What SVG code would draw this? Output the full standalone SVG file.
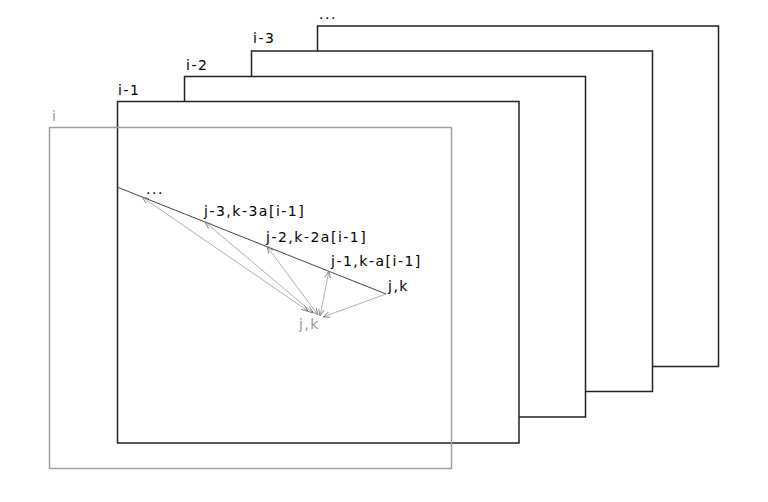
<svg xmlns="http://www.w3.org/2000/svg" width="768" height="502" viewBox="0 0 768 502">
<defs>
<style>
.frame{fill:#fff;stroke:#222;stroke-width:1.5}
.cur{fill:none;stroke:#a0a0a0;stroke-width:1.5}
.lbl{font-family:"DejaVu Sans","Liberation Sans",sans-serif;font-size:14px;letter-spacing:1.5px;fill:#000}
.glbl{font-family:"DejaVu Sans","Liberation Sans",sans-serif;font-size:14px;letter-spacing:1.5px;fill:#999}
.main{stroke:#444;stroke-width:1;fill:none}
.dep{stroke:#b0b0b0;stroke-width:1;fill:none;marker-start:url(#ah);marker-end:url(#ah)}
</style>
<marker id="ah" viewBox="0 0 10 10" refX="10" refY="5" markerWidth="7" markerHeight="7" markerUnits="userSpaceOnUse" orient="auto-start-reverse">
<path d="M0,1 L10,5 L0,9" fill="none" stroke="#777" stroke-width="1.2"/>
</marker>
</defs>
<g id="layer-dots">
<rect class="frame" x="317.5" y="26" width="401" height="340.5"/>
<text class="lbl" x="319" y="19">...</text>
</g>
<g id="layer-i-3">
<rect class="frame" x="251.5" y="51" width="401" height="340.5"/>
<text class="lbl" x="253" y="43">i-3</text>
</g>
<g id="layer-i-2">
<rect class="frame" x="184.5" y="76.5" width="401" height="340.5"/>
<text class="lbl" x="186" y="69.5">i-2</text>
</g>
<g id="layer-i-1">
<rect class="frame" x="117.5" y="101.5" width="401.5" height="341.5"/>
<text class="lbl" x="118" y="95">i-1</text>
</g>
<g id="layer-i">
<rect class="cur" x="49.5" y="127.5" width="402" height="341"/>
<text class="glbl" x="52" y="121">i</text>
</g>
<g id="connectors">
<line class="main" x1="117" y1="187" x2="386" y2="294"/>
<line class="dep" x1="142" y1="197" x2="308" y2="311"/>
<line class="dep" x1="205" y1="222" x2="313" y2="313"/>
<line class="dep" x1="267" y1="246.5" x2="318" y2="315"/>
<line class="dep" x1="329" y1="271" x2="320" y2="316"/>
<line class="dep" x1="386" y1="294" x2="323" y2="317" style="marker-start:none"/>
</g>
<g id="node-labels">
<text class="lbl" x="146" y="194">...</text>
<text class="lbl" x="204" y="216">j-3,k-3a[i-1]</text>
<text class="lbl" x="266" y="242">j-2,k-2a[i-1]</text>
<text class="lbl" x="331" y="266">j-1,k-a[i-1]</text>
<text class="lbl" x="388" y="291">j,k</text>
<text class="glbl" x="299" y="329">j,k</text>
</g>
</svg>
